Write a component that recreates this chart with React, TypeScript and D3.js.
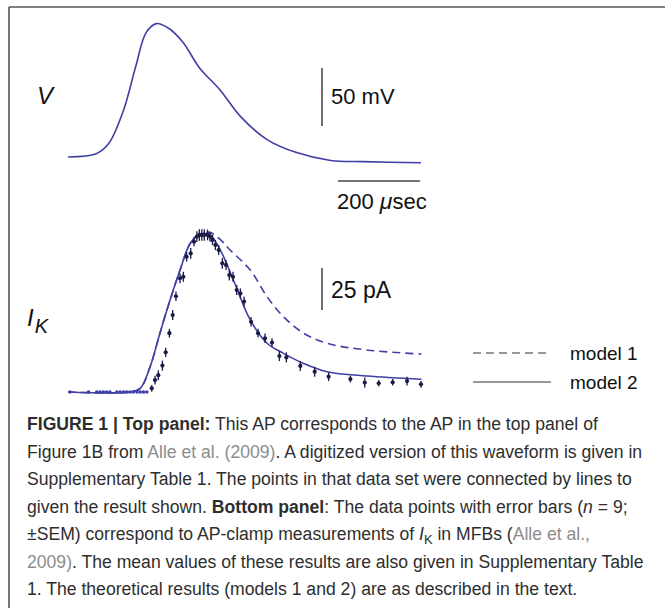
import * as d3 from 'd3';

const W = 665;
const H = 608;

// top panel: digitized action potential (time in µs, voltage in mV)
const apTime = [0, 70, 100, 135, 165, 190, 215, 245, 280, 320, 370, 420, 485, 555, 640, 720, 860];
const apVolt = [-80, -77, -68, -40, -2, 27, 35, 31, 19, -3, -22, -45, -65, -76, -83, -84, -85];

// bottom panel: measured I_K (mean ± SEM, pA)
const ikTime = [
  5, 50, 70, 78, 86, 94, 102, 119, 127, 135, 143, 151, 159, 168, 176, 184, 192,
  204, 212, 220, 230, 238, 247, 255, 263, 273, 281, 289, 299, 307, 314, 320, 326, 332, 340, 346, 352,
  359, 367, 376, 385, 393, 402, 411, 420, 429, 446, 463, 480, 497, 515, 532, 566, 601, 635, 688, 723,
  757, 791, 826, 860,
];
const ikMean = [
  0, 0, 0, 0, 0, 0, 0, 0, 0, 0, 0, 0, 0, 0, 0, 0, 0,
  2.2, 7.1, 10, 15.7, 23.6, 35, 45.8, 57, 67.7, 68.6, 80.5, 82.5, 89.5, 92.5, 93.5, 93.5, 93.5, 93.5, 92.5, 90.5,
  87.5, 84.5, 76.6, 75.6, 69.6, 68.6, 60.7, 58.7, 53.8, 41.8, 35, 32, 29.4, 21.4, 20.6, 15.5, 12.1, 9.1, 7.7, 5.6,
  5.2, 5.8, 6.5, 4.6,
];
const ikSem = [
  0, 0, 0, 0, 0, 0, 0, 0, 0, 0, 0, 0, 0, 0, 0, 0, 0,
  2, 2.6, 3, 3, 2.8, 2.6, 3, 2.8, 3, 3, 2.8, 3.2, 2.8, 3.2, 3.4, 3.4, 3.4, 3.2, 3, 3,
  3, 3, 3.2, 3, 3.2, 3, 3, 3, 3, 2.8, 2.6, 2.8, 2.6, 3, 3, 3, 3, 2.6, 2, 3,
  2, 2, 2.6, 2,
];

// model curves
const m1Time = [0, 151, 176, 200, 224, 249, 273, 298, 322, 345, 370, 395, 444, 485, 525, 574, 631, 728, 861];
const m1Cur = [0, 0, 2.2, 15, 35, 55, 72.6, 88.5, 94, 95, 91, 84.5, 72.6, 56.7, 44.8, 35, 29, 25, 22.6];
const m2Time = [0, 151, 176, 200, 224, 249, 273, 298, 322, 346, 371, 403, 444, 485, 525, 574, 631, 728, 861];
const m2Cur = [0, 0, 2.2, 15, 35, 55, 72.6, 88.5, 94, 93.5, 84.5, 66.7, 42.9, 29, 23, 17, 12.1, 9.5, 7.6];

const legendLabels = ['model 1', 'model 2'];

const curveColor = '#3f3fa6';
const dotColor = '#1b1b48';
const sans = '"Liberation Sans", Arial, Helvetica, sans-serif';

export default function App() {
  const x = d3.scaleLinear().domain([0, 860]).range([68, 421]);
  const yV = d3.scaleLinear().domain([-80, 40]).range([157, 157 - 120 * 1.16]);
  const yI = d3.scaleLinear().domain([0, 100]).range([392, 392 - 168]);

  const apLine = d3
    .line<number>()
    .x((_, i) => x(apTime[i]))
    .y((d) => yV(d))
    .curve(d3.curveCatmullRom.alpha(0.5));

  const ikLine = (times: number[]) =>
    d3
      .line<number>()
      .x((_, i) => x(times[i]))
      .y((d) => yI(d))
      .curve(d3.curveCatmullRom.alpha(0.5));

  const mvBar = yV(0) - yV(50);
  const paBar = yI(0) - yI(25);
  const usBar = x(200) - x(0);

  const lines: React.ReactNode[] = [
    <>
      <tspan fontWeight="bold">FIGURE 1 | Top panel:</tspan> This AP corresponds to the AP in the top panel of
    </>,
    <>
      Figure 1B from <tspan fill="#8c8c8c">Alle et al. (2009)</tspan>. A digitized version of this waveform is given in
    </>,
    <>Supplementary Table 1. The points in that data set were connected by lines to</>,
    <>
      given the result shown. <tspan fontWeight="bold">Bottom panel</tspan>: The data points with error bars (
      <tspan fontStyle="italic">n</tspan> = 9;
    </>,
    <>
      ±SEM) correspond to AP-clamp measurements of <tspan fontStyle="italic">I</tspan>
      <tspan fontSize={13} dy={4}>K</tspan>
      <tspan dy={-4}> in MFBs (</tspan>
      <tspan fill="#8c8c8c">Alle et al.,</tspan>
    </>,
    <>
      <tspan fill="#8c8c8c">2009)</tspan>. The mean values of these results are also given in Supplementary Table
    </>,
    <>1. The theoretical results (models 1 and 2) are as described in the text.</>,
  ];

  return (
    <div style={{ position: 'absolute', left: 0, top: 0 }}>
      <svg width={W} height={H} viewBox={`0 0 ${W} ${H}`} style={{ display: 'block', background: '#fff' }}>
        {/* frame */}
        <line x1={9} y1={7} x2={W} y2={7} stroke="#555" strokeWidth={1.6} />
        <line x1={9} y1={7} x2={9} y2={H} stroke="#555" strokeWidth={1.6} />

        {/* top panel */}
        <text x={37} y={104} fontFamily={sans} fontSize={24} fontStyle="italic" fill="#111">
          V
        </text>
        <path d={apLine(apVolt) || ''} fill="none" stroke={curveColor} strokeWidth={1.6} />
        <line x1={322} x2={322} y1={68} y2={68 + mvBar} stroke="#222" strokeWidth={1.3} />
        <text x={331} y={104} fontFamily={sans} fontSize={22} fill="#111">
          50 mV
        </text>
        <line x1={338} x2={338 + usBar} y1={181} y2={181} stroke="#444" strokeWidth={1.3} />
        <text x={337} y={209} fontFamily={sans} fontSize={22} fill="#111">
          200 <tspan fontStyle="italic" fontSize={23}>μ</tspan>sec
        </text>

        {/* bottom panel */}
        <text x={27} y={326} fontFamily={sans} fontSize={24} fontStyle="italic" fill="#111">
          I<tspan fontSize={20} dx={1} dy={7}>K</tspan>
        </text>
        <path
          d={ikLine(m1Time)(m1Cur) || ''}
          fill="none"
          stroke={curveColor}
          strokeWidth={1.6}
          strokeDasharray="8,5"
        />
        <path d={ikLine(m2Time)(m2Cur) || ''} fill="none" stroke={curveColor} strokeWidth={1.6} />
        {ikMean.map((m, i) => (
          <g key={i}>
            {ikSem[i] > 0 && (
              <line
                x1={x(ikTime[i])}
                x2={x(ikTime[i])}
                y1={yI(m - ikSem[i])}
                y2={yI(m + ikSem[i])}
                stroke={dotColor}
                strokeWidth={1.3}
              />
            )}
            <circle
              cx={x(ikTime[i])}
              cy={yI(m)}
              r={ikSem[i] > 0 ? 2.1 : 1.8}
              fill={ikSem[i] > 0 ? dotColor : curveColor}
            />
          </g>
        ))}
        <line x1={322} x2={322} y1={268} y2={268 + paBar} stroke="#222" strokeWidth={1.3} />
        <text x={331} y={298} fontFamily={sans} fontSize={23} fill="#111">
          25 pA
        </text>

        {/* legend */}
        {legendLabels.map((lab, i) => (
          <g key={lab} transform={`translate(0,${353 + i * 29})`}>
            <line
              x1={473}
              x2={551}
              y1={0}
              y2={0}
              stroke="#333"
              strokeWidth={1.2}
              strokeDasharray={i === 0 ? '8,5' : undefined}
            />
            <text x={570} y={7} fontFamily={sans} fontSize={19} fill="#111">
              {lab}
            </text>
          </g>
        ))}

        {/* caption */}
        {lines.map((ln, i) => (
          <text key={i} x={27} y={430 + i * 27.5} fontFamily={sans} fontSize={17.6} fill="#2e2e2e">
            {ln}
          </text>
        ))}
      </svg>
    </div>
  );
}
